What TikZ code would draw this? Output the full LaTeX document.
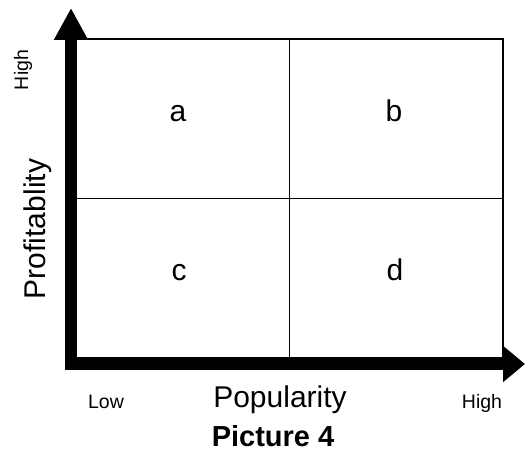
\documentclass[tikz,border=0pt]{standalone}
\usepackage{fontspec}
\setmainfont{Liberation Sans}
\usepackage{tikz}
\usetikzlibrary{
    arrows.meta,
    positioning
}

\begin{document}
\begin{tikzpicture}[
        x=1pt, y=1pt,
        grid/.style={
            rectangle,
            draw,
            line width=1.6pt,
            inner sep=0pt,
            minimum width=427pt,
            minimum height=319pt
        },
        divider/.style={
            line width=1.6pt
        },
        axis/.style={
            line width=12pt
        },
        biglabel/.style={
            anchor=base,
            inner sep=0pt,
            font=\fontsize{30}{36}\selectfont
        },
        smalllabel/.style={
            anchor=base,
            inner sep=0pt,
            font=\fontsize{19.5}{23}\selectfont
        }
    ]

    \useasboundingbox (0,0) rectangle (525,454);

    \node[grid] (quad) at (289.5,255.5) {};

    \draw[divider] (quad.north) -- (quad.south);
    \draw[divider] (quad.west) -- (quad.east);

    \coordinate (yfoot) at (71,84);
    \coordinate (ytip) at (71,446);
    \coordinate (xfoot) at (65,90);
    \coordinate (xtip) at (525,90);

    \draw[axis, -{Triangle[length=32pt,width=32pt]}] (yfoot) -- (ytip);
    \draw[axis, -{Triangle[length=22pt,width=35pt]}] (xfoot) -- (xtip);

    \node[biglabel] (qa) at (178,332) {a};
    \node[biglabel] (qb) at (394,332) {b};
    \node[biglabel] (qc) at (179,173) {c};
    \node[biglabel] (qd) at (395,173) {d};

    \node[biglabel, rotate=90] (yname) at (45,225) {Profitablity};
    \node[smalllabel, rotate=90] (yhigh) at (28,384) {High};

    \node[smalllabel] (xlow) at (106,45) {Low};
    \node[biglabel] (xname) at (280,46) {Popularity};
    \node[smalllabel] (xhigh) at (482,45) {High};

    \node[biglabel, font=\fontsize{29}{35}\selectfont\bfseries] (caption)
        at (273,7) {Picture 4};

\end{tikzpicture}
\end{document}
